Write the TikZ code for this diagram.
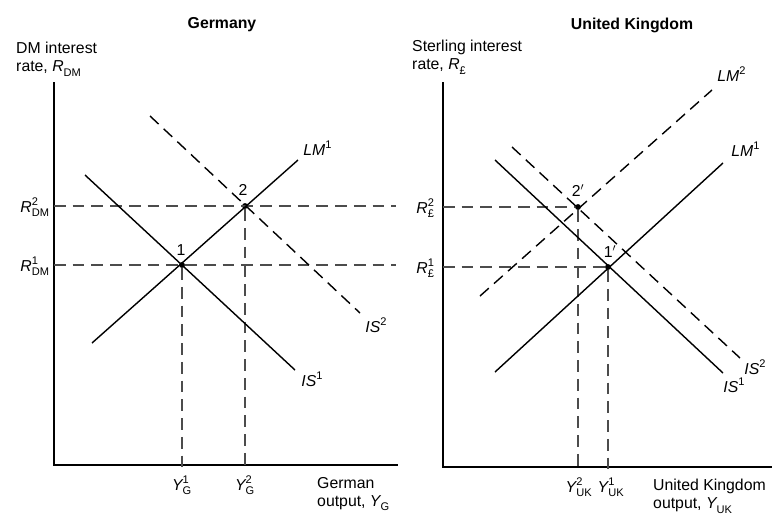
\documentclass[tikz,border=0pt]{standalone}
\usepackage{amsmath}
\usepackage{fontspec}
\setmainfont{Liberation Sans}
\usepackage{tikz}
\usetikzlibrary{positioning, calc}

\newcommand{\varlab}[3]{$\textit{#1}^{\text{#2}}_{\text{#3}}$}

\tikzset{
  axis/.style={line width=1.6pt},
  curve/.style={line width=1.2pt},
  shifted/.style={line width=1.2pt, dash pattern=on 10pt off 6pt},
  guide/.style={line width=0.9pt, black!70, dash pattern=on 10pt off 6pt},
  eqpt/.style={circle, fill=black, inner sep=0pt, minimum size=5pt},
  title/.style={font=\fontsize{13.5}{15}\selectfont\bfseries},
  curvelab/.style={anchor=west, inner sep=1pt},
  ticklab/.style={anchor=north, inner sep=1pt},
  axislab/.style={align=left, inner sep=0pt}
}

\begin{document}
\begin{tikzpicture}[x=0.03cm, y=-0.03cm, font=\fontsize{13.5}{15.5}\selectfont]
\useasboundingbox (0,0) rectangle (774,520);

% ---------------- Germany ----------------
\node[title] (gtitle) at (222,25) {Germany};
\node[axislab, anchor=north west] (gylab) at (16,42) {DM interest\\rate, \varlab{R}{}{DM}};
\coordinate (gO) at (54,465);
\coordinate (gT) at (54,82);
\coordinate (gR) at (398,465);
\coordinate (gend) at (396,465);
\draw[axis] (gT) -- (gO) -- (gR);

% equilibria
\node[eqpt] (g1) at (182,265) {};
\node[eqpt] (g2) at (245,206) {};
\node (g1lab) at (181,250) {1};
\node (g2lab) at (243,190) {2};

% guides
\draw[guide] (gO |- g2) -- (gend |- g2);
\draw[guide] (gO |- g1) -- (gend |- g1);
\draw[guide] (g1) -- ([yshift=-4pt]g1 |- gO);
\draw[guide] (g2) -- ([yshift=-4pt]g2 |- gO);

% curves
\coordinate (glmA) at (92,343);
\coordinate (glmB) at (298,160);
\coordinate (gisA) at (85,175);
\coordinate (gisB) at (295,370);
\coordinate (gisC) at (150,116);
\coordinate (gisD) at (360,313);
\draw[curve] (glmA) -- (glmB);
\draw[curve] (gisA) -- (gisB);
\draw[shifted] (gisC) -- (gisD);
\node[curvelab] (glm1) at (302,150) {\varlab{LM}{1}{}};
\node[curvelab] (gis1) at (300,381) {\varlab{IS}{1}{}};
\node[curvelab] (gis2) at (364,327) {\varlab{IS}{2}{}};

% axis labels
\node[anchor=east, inner sep=1pt] (gr2) at (51,207) {\varlab{R}{2}{DM}};
\node[anchor=east, inner sep=1pt] (gr1) at (51,266) {\varlab{R}{1}{DM}};
\node[ticklab] (gy1) at (182,474) {\varlab{Y}{1}{G}};
\node[ticklab] (gy2) at (245,474) {\varlab{Y}{2}{G}};
\node[axislab, anchor=north west] (gxlab) at (317,477) {German\\output, \varlab{Y}{}{G}};

% ---------------- United Kingdom ----------------
\node[title] (utitle) at (632,25) {United Kingdom};
\node[axislab, anchor=north west] (uylab) at (412,40) {Sterling interest\\rate, \varlab{R}{}{£}};
\coordinate (uO) at (443,467);
\coordinate (uT) at (443,82);
\coordinate (uR) at (772,467);
\draw[axis] (uT) -- (uO) -- (uR);

% equilibria
\node[eqpt] (u1) at (608,267) {};
\node[eqpt] (u2) at (578,207) {};
\node (u1lab) at (610,252) {1$'$};
\node (u2lab) at (578,191) {2$'$};

% guides
\draw[guide] (uO |- u2) -- (u2);
\draw[guide] (uO |- u1) -- (u1);
\draw[guide] (u1) -- ([yshift=-4pt]u1 |- uO);
\draw[guide] (u2) -- ([yshift=-4pt]u2 |- uO);

% curves
\coordinate (ulmA) at (495,372);
\coordinate (ulmB) at (723,163);
\coordinate (ulmC) at (480,296);
\coordinate (ulmD) at (712,90);
\coordinate (uisA) at (495,160);
\coordinate (uisB) at (723,373);
\coordinate (uisC) at (512,147);
\coordinate (uisD) at (740,358);
\draw[curve] (ulmA) -- (ulmB);
\draw[shifted] (ulmC) -- (ulmD);
\draw[curve] (uisA) -- (uisB);
\draw[shifted] (uisC) -- (uisD);
\node[curvelab] (ulm2) at (716,76) {\varlab{LM}{2}{}};
\node[curvelab] (ulm1) at (730,151) {\varlab{LM}{1}{}};
\node[curvelab] (uis2) at (743,369) {\varlab{IS}{2}{}};
\node[curvelab] (uis1) at (722,387) {\varlab{IS}{1}{}};

% axis labels
\node[anchor=east, inner sep=1pt] (ur2) at (436,208) {\varlab{R}{2}{£}};
\node[anchor=east, inner sep=1pt] (ur1) at (436,268) {\varlab{R}{1}{£}};
\node[ticklab] (uy2) at (579,476) {\varlab{Y}{2}{UK}};
\node[ticklab] (uy1) at (611,476) {\varlab{Y}{1}{UK}};
\node[axislab, anchor=north west] (uxlab) at (653,479) {United Kingdom\\output, \varlab{Y}{}{UK}};
\end{tikzpicture}
\end{document}
